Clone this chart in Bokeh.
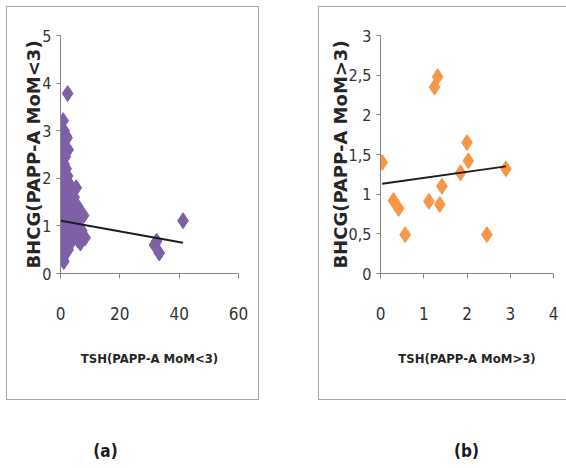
from bokeh.plotting import figure
from bokeh.models import Range1d, FixedTicker, Label, Spacer
from bokeh.layouts import row, column
from bokeh.embed import file_html
from bokeh.resources import INLINE

# ---------------- data ----------------
tsh_a = [2.4, 0.9, 1.2, 1.8, 2.2, 0.6, 0.3, 2.6, 1.0, 1.6, 0.2, 1.2, 0.5, 1.9,
         0.1, 1.0, 2.4, 0.4, 1.5, 2.8, 0.2, 1.1, 2.0, 5.3, 0.7, 1.7, 3.1,
         0.1, 1.3, 2.5, 4.6, 0.5, 1.9, 3.4, 0.2, 1.0, 2.7, 4.1, 5.9,
         0.6, 1.6, 3.2, 6.6, 7.8, 0.1, 1.1, 2.3, 4.8, 0.4, 1.8, 3.6, 5.6,
         0.2, 1.2, 2.6, 4.3, 0.7, 1.9, 3.3, 6.1, 7.2, 0.3, 1.4, 2.8, 4.7,
         8.3, 0.9, 2.1, 3.8, 5.9, 6.7, 0.2, 1.5, 3.0, 0.6, 1.9, 2.6,
         0.3, 1.3, 0.8, 1.1, 31.7, 32.4, 33.3, 41.3]
bhcg_a = [3.78, 3.21, 3.0, 2.9, 2.85, 2.75, 2.6, 2.6, 2.45, 2.45, 2.3, 2.3, 2.2, 2.2,
          2.05, 2.05, 2.05, 1.9, 1.9, 1.9, 1.8, 1.8, 1.8, 1.8, 1.7, 1.7, 1.7,
          1.6, 1.6, 1.6, 1.6, 1.5, 1.5, 1.5, 1.4, 1.4, 1.4, 1.4, 1.4,
          1.3, 1.3, 1.3, 1.3, 1.22, 1.2, 1.2, 1.2, 1.2, 1.1, 1.1, 1.1, 1.1,
          1.0, 1.0, 1.0, 1.0, 0.9, 0.9, 0.9, 0.9, 0.9, 0.8, 0.8, 0.8, 0.8,
          0.75, 0.7, 0.7, 0.7, 0.7, 0.64, 0.6, 0.6, 0.6, 0.5, 0.5, 0.5,
          0.4, 0.4, 0.3, 0.25, 0.6, 0.68, 0.43, 1.11]

tsh_b = [0.04, 0.30, 0.42, 0.57, 1.12, 1.25, 1.32, 1.37, 1.42, 1.85, 2.00, 2.03, 2.46, 2.90]
bhcg_b = [1.40, 0.92, 0.82, 0.49, 0.91, 2.35, 2.48, 0.87, 1.10, 1.27, 1.65, 1.42, 0.49, 1.32]

trend_a = {"intercept": 1.11, "slope": -0.0112}
trend_b = {"intercept": 1.127, "slope": 0.077}

x_ticks_a = [0, 20, 40, 60]
y_ticks_a = [0, 1, 2, 3, 4, 5]
x_ticks_b = [0, 1, 2, 3, 4]
y_ticks_b = [0, 0.5, 1, 1.5, 2, 2.5, 3]
y_tick_labels_b = ["0", "0,5", "1", "1,5", "2", "2,5", "3"]

x_titles = ["TSH(PAPP-A MoM<3)", "TSH(PAPP-A MoM>3)"]
y_titles = ["BHCG(PAPP-A MoM<3)", "BHCG(PAPP-A MoM>3)"]
panel_labels = ["(a)", "(b)"]

# ---------------- styling ----------------
NARROW = "DejaVu Sans Condensed, Lato"
AXIS_GRAY = "#868686"
TEXT = "#333333"


def make_panel(xs, ys, trend, color, x_end, y_end, xticks, yticks,
               ylabels, xtitle, ytitle, width, b_left, b_right, shadow):
    p = figure(width=width, height=394, output_backend="svg", toolbar_location=None,
               x_range=Range1d(0, x_end), y_range=Range1d(0, y_end),
               min_border_left=b_left, min_border_right=b_right,
               min_border_top=29, min_border_bottom=127,
               border_fill_color=None, background_fill_color=None,
               styles={"box-shadow": shadow})
    p.outline_line_color = None
    p.xgrid.visible = False
    p.ygrid.visible = False

    p.scatter(xs, ys, marker="diamond", size=16, fill_color=color, line_color=color)
    lx = [min(xs), max(xs)]
    ly = [trend["intercept"] + trend["slope"] * v for v in lx]
    p.line(lx, ly, line_color="#1e1e1e", line_width=2)

    for ax in (p.xaxis[0], p.yaxis[0]):
        ax.axis_line_color = AXIS_GRAY
        ax.major_tick_line_color = AXIS_GRAY
        ax.minor_tick_line_color = None
        ax.major_tick_in = 0
        ax.major_label_text_font = NARROW
        ax.major_label_text_color = TEXT
        ax.axis_label_text_font_style = "bold"
        ax.axis_label_text_color = "#262626"

    p.xaxis.ticker = FixedTicker(ticks=xticks)
    p.xaxis.major_tick_out = 5
    p.xaxis.major_label_text_font_size = "17px"
    p.xaxis.major_label_standoff = 28
    p.xaxis.axis_label = xtitle
    p.xaxis.axis_label_text_font = NARROW
    p.xaxis.axis_label_text_font_size = "13px"
    p.xaxis.axis_label_standoff = 28

    p.yaxis.ticker = FixedTicker(ticks=yticks)
    if ylabels is not None:
        p.yaxis.major_label_overrides = {t: l for t, l in zip(yticks, ylabels)}
    p.yaxis.major_tick_out = 4
    p.yaxis.major_label_text_font_size = "16px"
    p.yaxis.major_label_standoff = 5
    p.yaxis.axis_label = ytitle
    p.yaxis.axis_label_text_font = "DejaVu Sans"
    p.yaxis.axis_label_text_font_size = "18px"
    p.yaxis.axis_label_standoff = -5
    return p


p1 = make_panel(tsh_a, bhcg_a, trend_a, "#7d60a6", 60, 5,
                x_ticks_a, y_ticks_a, None, x_titles[0], y_titles[0],
                253, 54, 21, "inset 0 0 0 1px #a8a8a8")
p2 = make_panel(tsh_b, bhcg_b, trend_b, "#f79646", 4, 3,
                x_ticks_b, y_ticks_b, y_tick_labels_b, x_titles[1], y_titles[1],
                248, 62, 13,
                "inset 1px 0 0 #a8a8a8, inset 0 1px 0 #a8a8a8, inset 0 -1px 0 #a8a8a8")

p3 = figure(width=560, height=62, output_backend="svg", toolbar_location=None,
            x_range=Range1d(0, 560), y_range=Range1d(0, 62),
            x_axis_location=None, y_axis_location=None, min_border=0,
            border_fill_color=None, background_fill_color=None)
p3.outline_line_color = None
p3.xgrid.visible = False
p3.ygrid.visible = False
for lab, xpos in zip(panel_labels, [99, 460]):
    p3.add_layout(Label(x=xpos, y=12, x_units="screen", y_units="screen", text=lab,
                        text_font=NARROW, text_font_style="bold", text_font_size="17px",
                        text_color="#1a1a1a", text_align="center", text_baseline="middle"))

layout = column(
    Spacer(width=560, height=6),
    row(Spacer(width=6, height=394), p1, Spacer(width=59, height=394), p2),
    row(Spacer(width=6, height=62), p3),
)

open("out.html", "w").write(file_html(layout, INLINE))
